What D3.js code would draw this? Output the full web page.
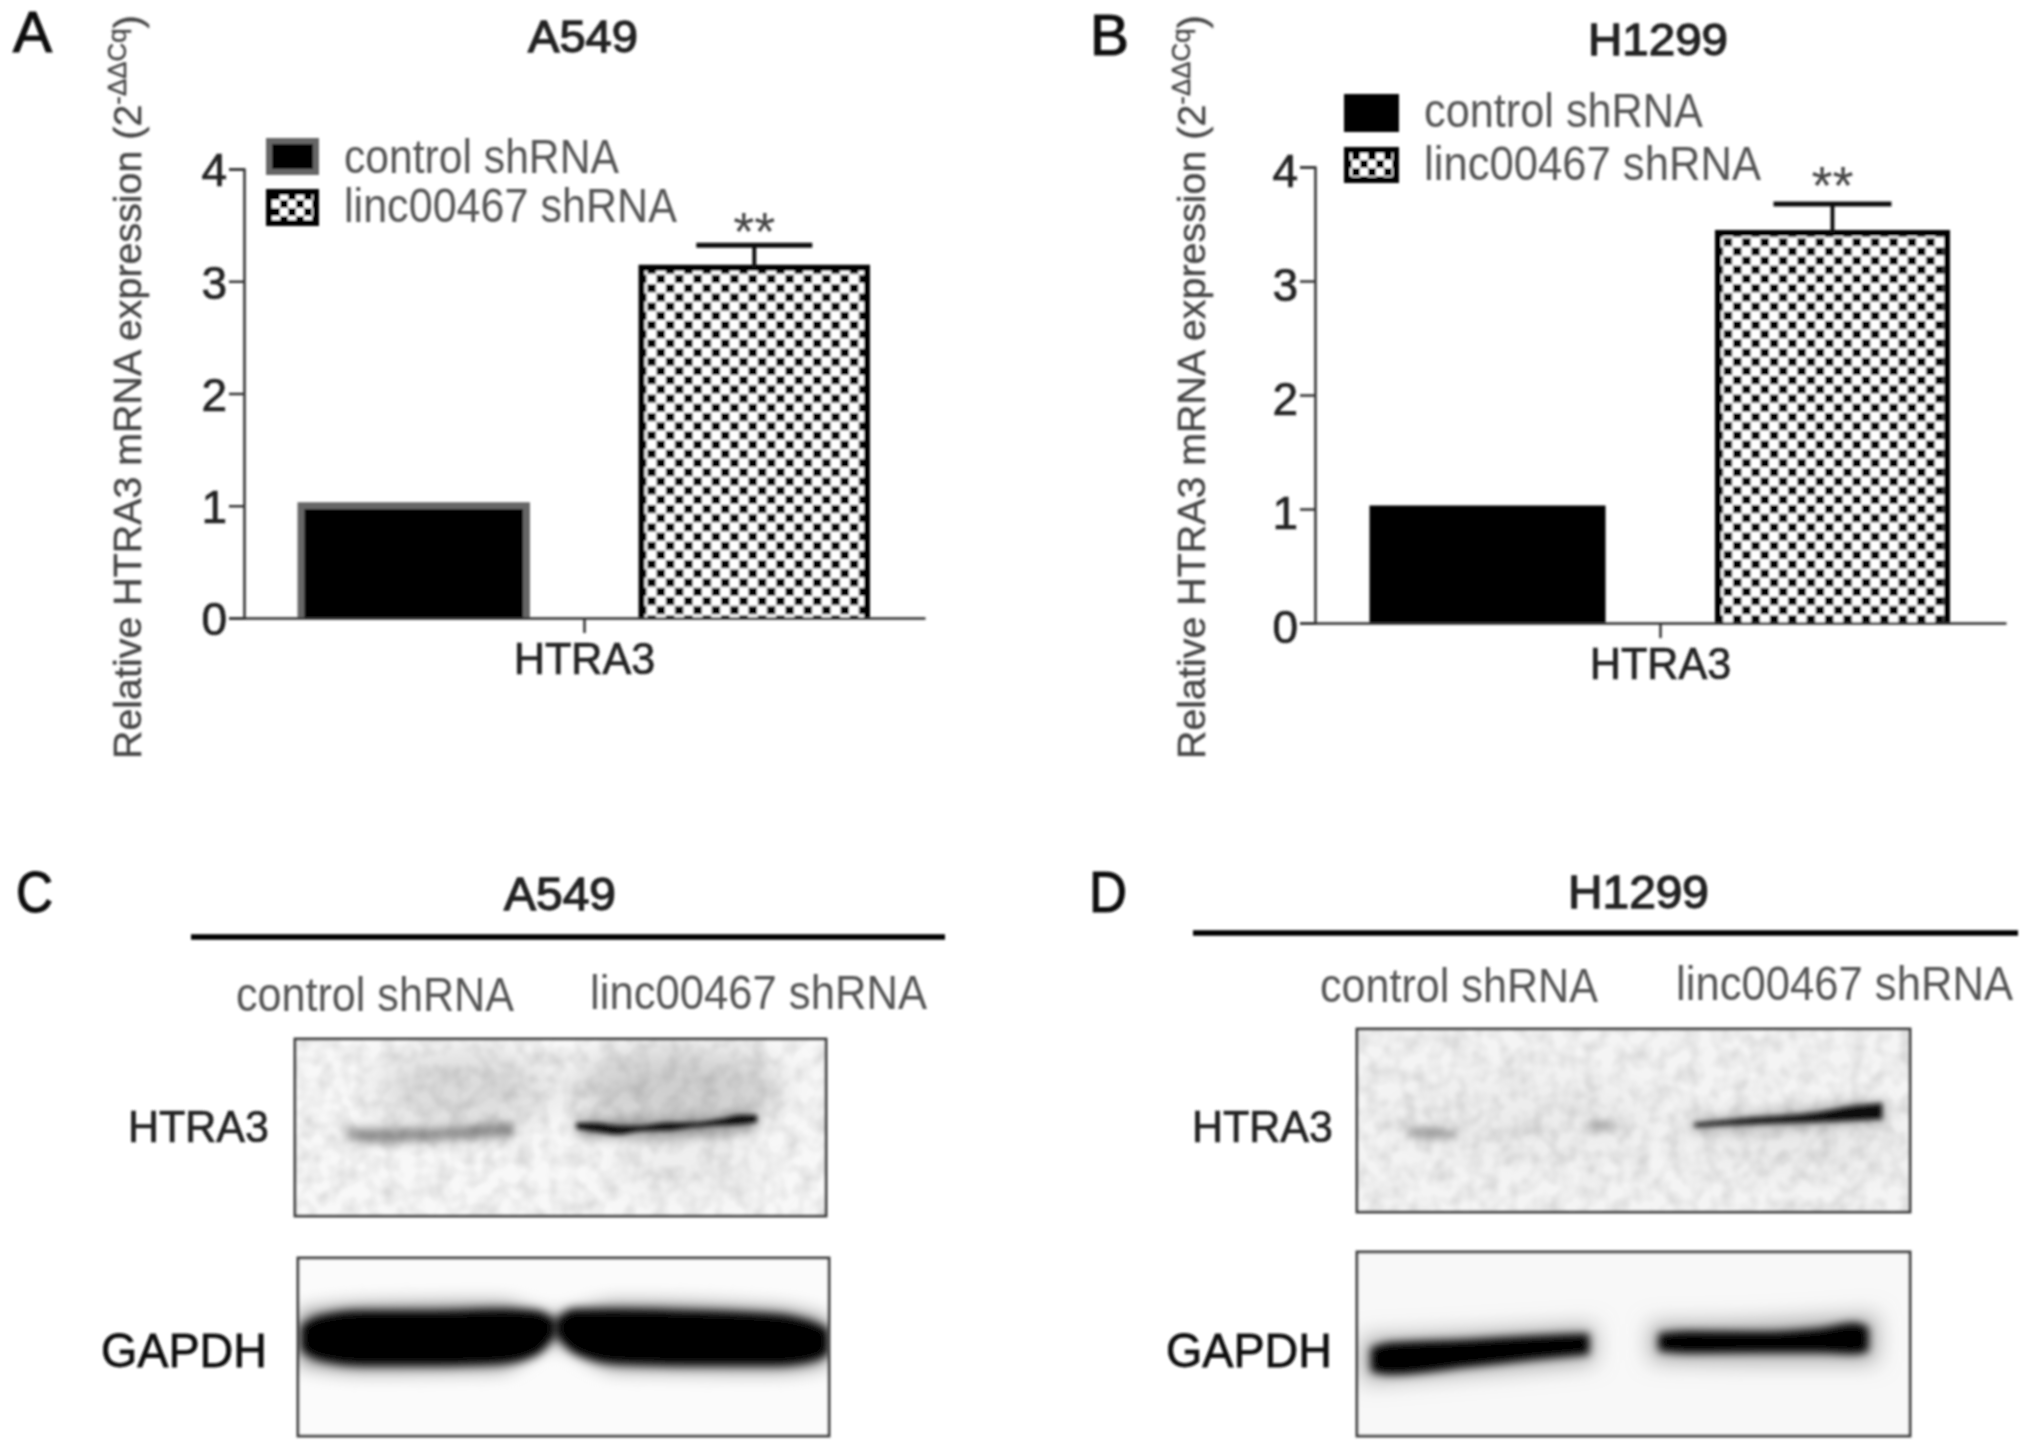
<!DOCTYPE html>
<html lang="en">
<head>
<meta charset="UTF-8">
<title>HTRA3 expression</title>
<script src="https://d3js.org/d3.v7.min.js"></script>
<style>
  * { margin: 0; padding: 0; }
  body { background: #fff; }
  svg { display: block; font-family: "Liberation Sans", Arial, sans-serif; }
</style>
</head>
<body>
<svg id="fig" width="2031" height="1455"></svg>
<script>
// values
const category = ['HTRA3'];
const series = ['control shRNA', 'linc00467 shRNA'];
const yTicks = [0, 1, 2, 3, 4];
const valuesA = [1.0, 3.12];
const errorA = [0, 0.2];
const valuesB = [1.0, 3.42];
const errorB = [0, 0.255];
const yTitle = 'Relative HTRA3 mRNA expression (2';
const yTitleSup = '-ΔΔCq';

// blot bands: [lane position %, height %, thickness %], all relative to the blot box
const bandsCHtra = [
  { shade: '#c4c4c4', blur: 7, pts: [[9, 54, 8], [24, 54, 9], [41, 51, 9]] },
  { shade: '#8a8a8a', blur: 4, pts: [[10, 54, 4], [16, 54.5, 6], [24, 54, 5], [33, 52.5, 5.5], [41, 51, 6.5]] },
  { shade: '#8a8a8a', blur: 7, pts: [[53, 50, 9], [70, 50, 10], [87, 46, 9]] },
  { shade: '#111', blur: 2, pts: [[53, 49, 3.5], [57, 50, 5], [61, 51.5, 5], [65, 50.5, 3], [70, 49.5, 4.5], [75, 48.5, 2.5], [80, 47, 3.5], [84, 45.5, 5.5], [87, 45, 4]] }
];
const bandsCGapdh = [
  { shade: '#999', blur: 9, pts: [[0, 45, 30], [12, 45, 38], [38, 44, 38], [48, 40, 16], [60, 44, 38], [90, 46, 36], [100, 47, 26]] },
  { shade: '#000', blur: 5, pts: [[0.5, 45, 14], [4, 45, 25], [12, 45, 31], [25, 45, 31], [38, 44, 31], [45, 42, 25], [48.5, 39, 8]] },
  { shade: '#000', blur: 5, pts: [[48.5, 39, 8], [52, 41, 25], [60, 44, 31], [75, 45, 31], [90, 46, 29], [97, 47, 22], [100, 47, 14]] }
];
const bandsDHtra = [
  { shade: '#9a9a9a', blur: 4, pts: [[9, 57, 3], [13, 57, 6], [18, 57.5, 3]] },
  { shade: '#d0d0d0', blur: 4, pts: [[25, 56.5, 2.5], [30, 55.5, 4], [35, 54.5, 2.5]] },
  { shade: '#b0b0b0', blur: 4, pts: [[41, 53.5, 3], [44, 53, 5.5], [47, 53, 3]] },
  { shade: '#aaa', blur: 7, pts: [[60, 53, 6], [75, 50, 9], [95, 45, 12]] },
  { shade: '#0a0a0a', blur: 2.8, pts: [[61, 52.5, 2], [70, 50.5, 3.5], [82, 48.5, 5], [90, 46, 8], [95, 45, 9]] }
];
const bandsDGapdh = [
  { shade: '#aaa', blur: 11, pts: [[1, 58.5, 24], [20, 55, 22], [43, 50, 20]] },
  { shade: '#aaa', blur: 11, pts: [[53, 49, 20], [72, 49, 22], [94, 47, 26]] },
  { shade: '#000', blur: 4.5, pts: [[2.5, 58.5, 13], [6, 58, 17.5], [20, 55, 15], [32, 52, 13], [42, 50, 11.5]] },
  { shade: '#000', blur: 4.5, pts: [[54.5, 49, 9.5], [60, 49, 12], [72, 49, 11.5], [84, 48, 13.5], [90, 47, 17], [92.5, 47.5, 13]] }
];
// faint smears behind the bands: [lane %, height %, width %, thickness %, grey]
const smearC = [[32, 28, 34, 44, '#dcdcdc'], [72, 27, 40, 44, '#cfcfcf'], [74, 72, 30, 34, '#eeeeee']];
const smearD = [[30, 50, 50, 40, '#ececec'], [80, 62, 40, 30, '#e9e9e9']];

const svg = d3.select('#fig');
const defs = svg.append('defs');

defs.append('filter').attr('id', 'soft').attr('x', '-5%').attr('y', '-5%').attr('width', '110%').attr('height', '110%')
  .append('feGaussianBlur').attr('stdDeviation', 0.8);

// dotted fill used for the linc00467 bars
const dots = defs.append('pattern').attr('id', 'checker')
  .attr('patternUnits', 'userSpaceOnUse').attr('width', 18.4).attr('height', 18.4)
  .attr('patternTransform', 'translate(12.2,-1.6)');
dots.append('rect').attr('width', 18.4).attr('height', 18.4).attr('fill', '#fff');
dots.append('rect').attr('x', 0.4).attr('y', 0.6).attr('width', 8.4).attr('height', 8).attr('fill', '#000');
dots.append('rect').attr('x', 9.6).attr('y', 9.8).attr('width', 8.4).attr('height', 8).attr('fill', '#000');

// coarser one in the legend keys
const keyDots = defs.append('pattern').attr('id', 'checkerKey')
  .attr('patternUnits', 'userSpaceOnUse').attr('width', 16).attr('height', 16);
keyDots.append('rect').attr('width', 16).attr('height', 16).attr('fill', '#fff');
keyDots.append('rect').attr('width', 8).attr('height', 8).attr('fill', '#000');
keyDots.append('rect').attr('x', 8).attr('y', 8).attr('width', 8).attr('height', 8).attr('fill', '#000');

const grain = defs.append('filter').attr('id', 'grain').attr('x', 0).attr('y', 0).attr('width', '100%').attr('height', '100%');
grain.append('feTurbulence').attr('type', 'fractalNoise').attr('baseFrequency', 0.06).attr('numOctaves', 2).attr('seed', 4).attr('result', 'n');
grain.append('feColorMatrix').attr('in', 'n').attr('type', 'matrix')
  .attr('values', '0 0 0 0 0  0 0 0 0 0  0 0 0 0 0  0.22 0 0 0 -0.08');

const page = svg.append('g').attr('filter', 'url(#soft)');

// squeezes or stretches a text to the width it has in the picture
function fitText(g, str, x, y, width, size, fill, ink) {
  const t = g.append('text').attr('font-size', size).attr('fill', fill)
    .attr('stroke', fill).attr('stroke-width', ink || 0).text(str);
  const k = width / t.node().getComputedTextLength();
  t.attr('transform', 'translate(' + x + ',' + y + ') scale(' + k + ',1)');
  return t;
}

function barPanel(values, errors, o) {
  const g = page.append('g');
  const y = d3.scaleLinear().domain([0, 4]).range([o.y0, o.y4]);
  const x0 = d3.scaleBand().domain(category).range([o.axisX, o.axisEnd]);
  const x1 = d3.scaleBand().domain(series).range(o.barRange).paddingInner(o.barGap);

  const rows = series.map((s, i) => ({ s: s, v: values[i], e: errors[i] }));

  g.selectAll('path.bar').data(rows).enter().append('path')
    .attr('class', 'bar')
    .attr('d', d => {
      const p = d3.path();
      p.moveTo(x1(d.s), y(0));
      p.lineTo(x1(d.s), y(d.v));
      p.lineTo(x1(d.s) + x1.bandwidth(), y(d.v));
      p.lineTo(x1(d.s) + x1.bandwidth(), y(0));
      return p.toString();
    })
    .attr('fill', (d, i) => i === 0 ? '#000' : 'url(#checker)')
    .attr('stroke', (d, i) => i === 0 ? o.controlStroke : '#000')
    .attr('stroke-width', (d, i) => i === 0 ? 7 : 6);

  // error bar, upper arm only
  const errs = rows.filter(d => d.e > 0);
  const mid = d => x1(d.s) + x1.bandwidth() / 2;
  g.selectAll('line.stem').data(errs).enter().append('line')
    .attr('x1', mid).attr('x2', mid)
    .attr('y1', d => y(d.v)).attr('y2', d => y(d.v + d.e))
    .attr('stroke', '#111').attr('stroke-width', 4);
  g.selectAll('line.cap').data(errs).enter().append('line')
    .attr('x1', d => mid(d) - o.capHalf).attr('x2', d => mid(d) + o.capHalf)
    .attr('y1', d => y(d.v + d.e)).attr('y2', d => y(d.v + d.e))
    .attr('stroke', '#111').attr('stroke-width', 5);
  g.selectAll('text.star').data(errs).enter().append('text')
    .attr('text-anchor', 'middle').attr('x', mid).attr('y', o.starY)
    .attr('font-size', 54).attr('fill', '#444').text('**');

  const yAxis = d3.axisLeft(y).tickValues(yTicks).tickFormat(d3.format('d')).tickSize(15).tickPadding(3);
  const ya = g.append('g').attr('transform', 'translate(' + o.axisX + ',0)').call(yAxis);
  ya.selectAll('text').attr('font-size', 47).attr('fill', '#222').attr('stroke', '#222').attr('stroke-width', 0.7)
    .attr('dy', '0.36em').attr('y', o.tickDy)
    .attr('x', -17 / 0.98).attr('transform', 'scale(0.98,1)');

  const xAxis = d3.axisBottom(x0).tickSize(15).tickSizeOuter(0);
  const xa = g.append('g').attr('transform', 'translate(0,' + o.y0 + ')').call(xAxis);
  xa.selectAll('text').attr('font-size', 44).attr('fill', '#222').attr('stroke', '#222').attr('stroke-width', 0.7)
    .attr('y', 25).attr('dy', '0.71em').attr('transform', 'scale(0.98,1)');

  [ya, xa].forEach(a => {
    a.selectAll('path.domain').attr('stroke', '#333').attr('stroke-width', 2.5);
    a.selectAll('.tick line').attr('stroke', '#333').attr('stroke-width', 2.5);
  });

  // rotated y title with its superscript
  const title = g.append('text').attr('font-size', 38).attr('fill', '#444').attr('stroke', '#444').attr('stroke-width', 0.4);
  title.append('tspan').text(yTitle);
  title.append('tspan').attr('font-size', 25).attr('dy', -15).text(yTitleSup);
  title.append('tspan').attr('dy', 15).text(')');
  const k = o.yTitleLen / title.node().getComputedTextLength();
  title.attr('transform', 'translate(' + o.yTitleX + ',759) rotate(-90) scale(' + k + ',1)');

  // legend
  series.forEach((s, i) => {
    g.append('rect')
      .attr('x', o.legX + 3).attr('y', o.legY[i] + 3)
      .attr('width', o.legW - 6).attr('height', o.legH[i] - 6)
      .attr('fill', i === 0 ? '#000' : 'url(#checkerKey)')
      .attr('stroke', i === 0 ? o.controlStroke : '#000').attr('stroke-width', 6);
    fitText(g, s, o.legTextX, o.legBase[i], o.legTextW[i], 48, '#555');
  });

  fitText(g, o.letter, o.letterX, o.letterY, o.letterW, 58, '#111', 1.2);
  fitText(g, o.name, o.nameX, o.nameY, o.nameW, 45, '#222', 1.3);
}

let blotId = 0;
function blot(parent, box, bands, smears) {
  const id = 'blot' + (blotId++);
  const x = d3.scaleLinear().domain([0, 100]).range([box.x0, box.x1]);
  const y = d3.scaleLinear().domain([0, 100]).range([box.y0, box.y1]);
  defs.append('clipPath').attr('id', id).append('rect')
    .attr('x', box.x0).attr('y', box.y0).attr('width', box.x1 - box.x0).attr('height', box.y1 - box.y0);

  const g = parent.append('g');
  const inner = g.append('g').attr('clip-path', 'url(#' + id + ')');
  inner.append('rect')
    .attr('x', box.x0).attr('y', box.y0).attr('width', box.x1 - box.x0).attr('height', box.y1 - box.y0)
    .attr('fill', box.bg);

  const smearBlur = id + 's';
  defs.append('filter').attr('id', smearBlur).attr('x', '-40%').attr('y', '-40%').attr('width', '180%').attr('height', '180%')
    .append('feGaussianBlur').attr('stdDeviation', 16);
  inner.selectAll('ellipse').data(smears).enter().append('ellipse')
    .attr('cx', d => x(d[0])).attr('cy', d => y(d[1]))
    .attr('rx', d => x(d[2] / 2) - x(0)).attr('ry', d => y(d[3] / 2) - y(0))
    .attr('fill', d => d[4]).attr('filter', 'url(#' + smearBlur + ')');

  const area = d3.area().curve(d3.curveMonotoneX)
    .x(d => x(d[0]))
    .y0(d => y(d[1] - d[2] / 2))
    .y1(d => y(d[1] + d[2] / 2));

  bands.forEach((b, i) => {
    const fid = id + 'b' + i;
    defs.append('filter').attr('id', fid).attr('x', '-15%').attr('y', '-100%').attr('width', '130%').attr('height', '300%')
      .append('feGaussianBlur').attr('stdDeviation', b.blur);
    inner.append('path').datum(b.pts).attr('d', area).attr('fill', b.shade).attr('filter', 'url(#' + fid + ')');
  });

  if (box.grain) {
    inner.append('rect')
      .attr('x', box.x0).attr('y', box.y0).attr('width', box.x1 - box.x0).attr('height', box.y1 - box.y0)
      .attr('filter', 'url(#grain)');
  }

  g.append('rect')
    .attr('x', box.x0).attr('y', box.y0).attr('width', box.x1 - box.x0).attr('height', box.y1 - box.y0)
    .attr('fill', 'none').attr('stroke', '#444').attr('stroke-width', 3);
}

function blotPanel(o) {
  const g = page.append('g');
  fitText(g, o.letter, o.letterX, o.letterY, o.letterW, 58, '#111', 1.2);
  fitText(g, o.name, o.nameX, o.nameY, o.nameW, 46, '#222', 1.3);
  g.append('line').attr('x1', o.ruleX[0]).attr('x2', o.ruleX[1]).attr('y1', o.ruleY).attr('y2', o.ruleY)
    .attr('stroke', '#000').attr('stroke-width', 5.5);
  series.forEach((s, i) => fitText(g, s, o.laneX[i], o.laneY[i], o.laneW[i], 48, '#555'));
  fitText(g, category[0], o.htraLabel[0], 1142, o.htraLabel[1], 45, '#222', 0.7);
  fitText(g, 'GAPDH', o.gapdhLabel[0], 1367, o.gapdhLabel[1], 48, '#111', 0.8);
  blot(g, o.boxTop, o.bandsTop, o.smears);
  blot(g, o.boxBottom, o.bandsBottom, []);
}

barPanel(valuesA, errorA, {
  y0: 618, y4: 169, axisX: 244, axisEnd: 925, barRange: [301, 867], barGap: 0.338,
  controlStroke: '#666', capHalf: 58, starY: 250, tickDy: 0,
  yTitleX: 141, yTitleLen: 744,
  legX: 266, legY: [138, 189], legW: 53, legH: [37, 37],
  legTextX: 344, legBase: [173, 222], legTextW: [275, 333],
  letter: 'A', letterX: 13, letterY: 52, letterW: 39,
  name: 'A549', nameX: 528, nameY: 52, nameW: 110
});
barPanel(valuesB, errorB, {
  y0: 623, y4: 167, axisX: 1315, axisEnd: 2006, barRange: [1373, 1947], barGap: 0.336,
  controlStroke: '#000', capHalf: 59, starY: 204, tickDy: 3,
  yTitleX: 1205, yTitleLen: 744,
  legX: 1344, legY: [94, 147], legW: 55, legH: [38, 36],
  legTextX: 1424, legBase: [127, 180], legTextW: [279, 337],
  letter: 'B', letterX: 1090, letterY: 55, letterW: 39,
  name: 'H1299', nameX: 1588, nameY: 55, nameW: 140
});

blotPanel({
  letter: 'C', letterX: 16, letterY: 912, letterW: 37,
  name: 'A549', nameX: 504, nameY: 910, nameW: 112,
  ruleX: [191, 945], ruleY: 937,
  laneX: [236, 590], laneY: [1011, 1009], laneW: [278, 337],
  htraLabel: [128, 141], gapdhLabel: [101, 166],
  boxTop: { x0: 295, x1: 826, y0: 1039, y1: 1216, bg: '#f8f8f8', grain: true },
  boxBottom: { x0: 298, x1: 829, y0: 1258, y1: 1436, bg: '#fbfbfb', grain: false },
  bandsTop: bandsCHtra, bandsBottom: bandsCGapdh, smears: smearC
});
blotPanel({
  letter: 'D', letterX: 1089, letterY: 912, letterW: 38,
  name: 'H1299', nameX: 1568, nameY: 908, nameW: 141,
  ruleX: [1193, 2018], ruleY: 933,
  laneX: [1320, 1676], laneY: [1002, 1000], laneW: [278, 337],
  htraLabel: [1192, 141], gapdhLabel: [1166, 166],
  boxTop: { x0: 1357, x1: 1910, y0: 1029, y1: 1212, bg: '#f4f4f4', grain: true },
  boxBottom: { x0: 1357, x1: 1910, y0: 1252, y1: 1436, bg: '#f8f8f8', grain: false },
  bandsTop: bandsDHtra, bandsBottom: bandsDGapdh, smears: smearD
});
</script>
</body>
</html>
